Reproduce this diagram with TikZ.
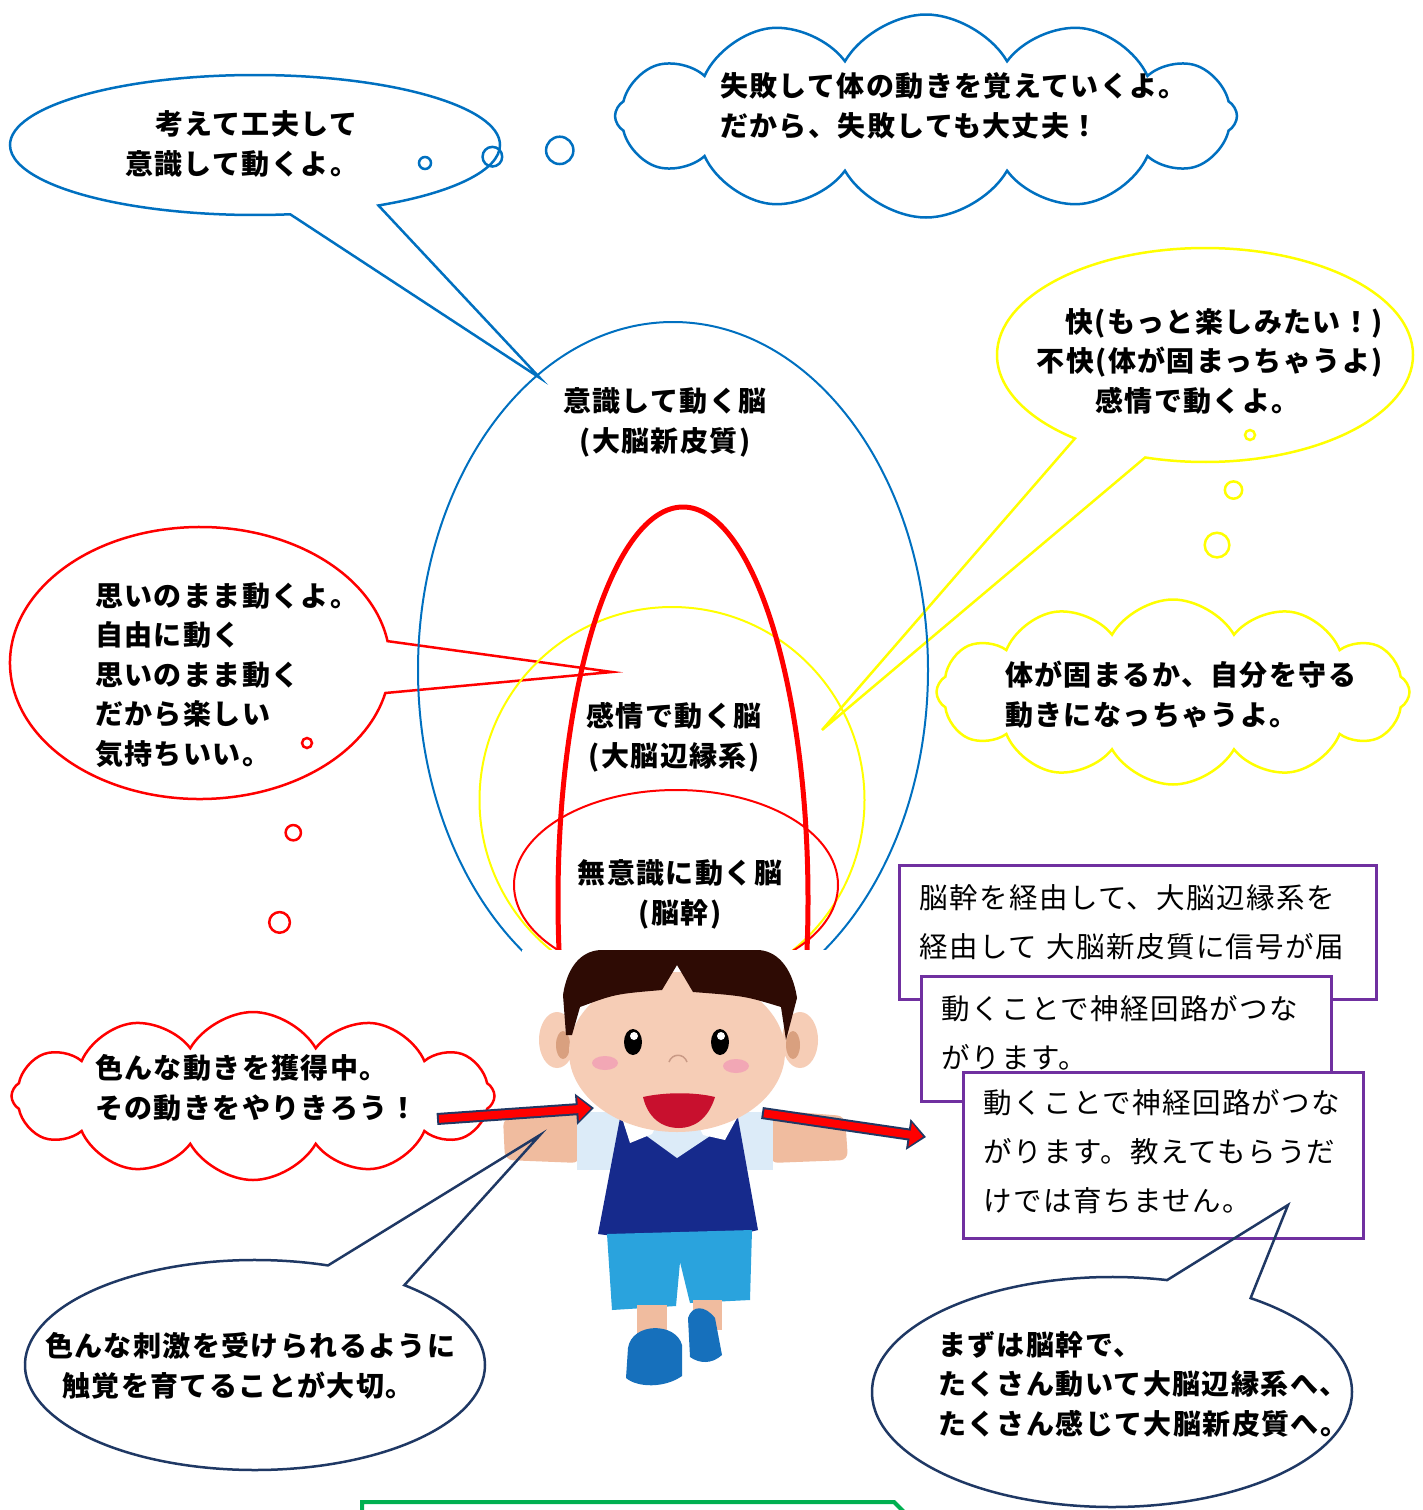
\documentclass[tikz,border=0pt]{standalone}
\usepackage{fontspec}
\newfontfamily\jpfont{Noto Sans CJK JP}[LetterSpace=5]
\usepackage{tikz}
\usetikzlibrary{arrows.meta,shapes.geometric,shapes.symbols,shapes.callouts,positioning}

\definecolor{ablue}{HTML}{0070C0}
\definecolor{ayellow}{HTML}{FFFF00}
\definecolor{ared}{HTML}{FF0000}
\definecolor{apurple}{HTML}{7030A0}
\definecolor{anavy}{HTML}{1F3864}
\definecolor{agreen}{HTML}{00B050}
\definecolor{hair}{HTML}{2E0B04}
\definecolor{skin}{HTML}{F6CDB6}
\definecolor{skinarm}{HTML}{F0BC9F}
\definecolor{earin}{HTML}{D9A07F}
\definecolor{cheek}{HTML}{F2A7B5}
\definecolor{mouth}{HTML}{C8102E}
\definecolor{vest}{HTML}{162A8C}
\definecolor{shirt}{HTML}{DCEBF8}
\definecolor{shorts}{HTML}{2AA3DD}
\definecolor{shoe}{HTML}{1670BC}
\definecolor{nose}{HTML}{C99A86}

\begin{document}
\begin{tikzpicture}[x=1pt,y=-1pt]
\tikzstyle{words}=[font=\jpfont\bfseries\fontsize{28}{39.5}\selectfont, text=black, align=left, inner sep=0pt, anchor=base west]
\tikzstyle{bubble}=[ellipse callout, draw, line width=2.5pt, inner sep=0pt, callout pointer arc=22]
\tikzstyle{think}=[cloud callout, draw, line width=2.5pt, inner sep=0pt, cloud puffs=12, cloud puff arc=120, cloud ignores aspect, callout pointer segments=3]
\tikzstyle{brain}=[ellipse, draw, inner sep=0pt, line width=2pt]
\tikzstyle{note}=[rectangle, draw=apurple, fill=white, line width=3pt, anchor=north west, align=left, inner xsep=20pt, inner ysep=0pt, font=\jpfont\fontsize{28.5}{49}\selectfont]
\tikzstyle{pushout}=[line width=12pt, anavy, -{Triangle[length=18pt,width=30pt]}]
\tikzstyle{pushin}=[line width=8pt, ared, shorten <=2pt, shorten >=3pt, -{Triangle[length=13pt,width=23pt]}]

\useasboundingbox (0,0) rectangle (1423,1510);
\clip (0,0) rectangle (1423,1510);

% where the callouts point
\coordinate (cortextip) at (540,378);
\coordinate (limbictip) at (612,672);
\coordinate (feeltip) at (822,730);
\coordinate (armtip) at (540,1135);
\coordinate (notetip) at (1288,1205);
\coordinate (bluedot) at (425,163);
\coordinate (yellowdot) at (1250,435);
\coordinate (reddot) at (307,743);

% speech and thought bubbles round the brain
\node[bubble, draw=ablue, minimum width=490pt, minimum height=140pt, callout absolute pointer={(cortextip)}] (kufuu) at (255,145) {};
\node[think, draw=ablue, minimum width=622pt, minimum height=203pt, callout absolute pointer={(bluedot)}, callout pointer start size=35pt, callout pointer end size=12pt] (shippai) at (926,116) {};
\node[bubble, draw=ared, minimum width=380pt, minimum height=272pt, callout absolute pointer={(limbictip)}] (omoi) at (200,663) {};
\node[bubble, draw=ayellow, minimum width=416pt, minimum height=214pt, callout absolute pointer={(feeltip)}] (kai) at (1205,355) {};
\node[think, draw=ayellow, minimum width=473pt, minimum height=185pt, callout absolute pointer={(yellowdot)}, callout pointer start size=32pt, callout pointer end size=10pt] (katamaru) at (1173,692) {};
\node[think, draw=ared, minimum width=483pt, minimum height=168pt, callout absolute pointer={(reddot)}, callout pointer start size=26pt, callout pointer end size=10pt] (kakutoku) at (253,1096) {};

% base = last line
\node[words] (kufuutxt) at (125,174) {\hspace*{30pt}考えて工夫して\\意識して動くよ。};
\node[words] (shippaitxt) at (720,136) {失敗して体の動きを覚えていくよ。\\だから、失敗しても大丈夫！};
\node[words] (omoitxt) at (95,764) {思いのまま動くよ。\\自由に動く\\思いのまま動く\\だから楽しい\\気持ちいい。};
\node[words, align=right, anchor=base east] (kaitxt) at (1383,411) {快(もっと楽しみたい！)\\不快(体が固まっちゃうよ)\\感情で動くよ。\hspace*{83pt}};
\node[words] (katamarutxt) at (1005,725) {体が固まるか、自分を守る\\動きになっちゃうよ。};
\node[words] (kakutokutxt) at (95,1118) {色んな動きを獲得中。\\その動きをやりきろう！};

% three brains
\node[brain, draw=ablue, minimum width=510pt, minimum height=696pt] (cortex) at (673,670) {};
\node[brain, draw=ayellow, minimum width=385pt, minimum height=386pt] (limbic) at (672,800) {};
\node[brain, draw=ared, line width=5pt, minimum width=250pt, minimum height=786pt] (lobe) at (683,900) {};
\node[brain, draw=ared, minimum width=324pt, minimum height=190pt] (stem) at (676,885) {};
\node[words, align=center, anchor=base] (cortexlbl) at (665,451) {意識して動く脳\\(大脳新皮質)};
\node[words, align=center, anchor=base] (limbiclbl) at (674,766) {感情で動く脳\\(大脳辺縁系)};
\node[words, align=center, anchor=base] (stemlbl) at (680,923) {無意識に動く脳\\(脳幹)};

% the boy
\fill[white] (522,950) rectangle (840,1395);
\fill[skinarm, rounded corners=8pt] (503,1118) -- (580,1112) -- (580,1163) -- (505,1160) -- cycle;
\fill[skinarm, rounded corners=8pt] (770,1110) -- (845,1116) -- (848,1160) -- (770,1163) -- cycle;
\fill[shirt] (577,1112) rectangle (622,1170);
\fill[shirt] (735,1112) rectangle (773,1170);
\fill[vest] (620,1118) -- (738,1118) -- (758,1230) .. controls (720,1240) and (640,1240) .. (598,1234) -- cycle;
\fill[shirt] (622,1118) -- (677,1158) -- (737,1118) -- cycle;
\fill[white] (622,1118) -- (630,1143) -- (652,1134) -- (660,1118) -- cycle;
\fill[white] (695,1118) -- (703,1135) -- (725,1140) -- (737,1118) -- cycle;
\fill[shorts] (607,1234) -- (752,1230) -- (750,1300) -- (690,1303) -- (680,1262) -- (676,1306) -- (612,1310) -- cycle;
\fill[skinarm] (637,1305) rectangle (667,1345);
\fill[skinarm] (693,1300) rectangle (722,1330);
\fill[shoe] (628,1348) .. controls (632,1322) and (676,1322) .. (682,1345) -- (682,1376) .. controls (665,1388) and (638,1388) .. (626,1378) -- cycle;
\fill[shoe] (688,1318) .. controls (692,1305) and (705,1305) .. (715,1318) -- (722,1355) .. controls (712,1364) and (700,1364) .. (690,1357) -- cycle;
\fill[skin] (557,1040) ellipse [x radius=18, y radius=28];
\fill[earin] (563,1045) ellipse [x radius=7, y radius=14];
\fill[skin] (800,1040) ellipse [x radius=18, y radius=28];
\fill[earin] (793,1045) ellipse [x radius=7, y radius=14];
\fill[skin] (677,1052) ellipse [x radius=108, y radius=80];
\fill[hair] (566,1035) -- (563,995) .. controls (568,962) and (585,950) .. (602,950) -- (757,950) .. controls (775,950) and (792,965) .. (797,998) -- (786,1040) -- (781,1007) .. controls (745,996) .. (693,992) -- (677,965) -- (662,990) .. controls (615,994) .. (580,1007) -- (572,1035) -- cycle;
\fill (633,1042) ellipse [x radius=9, y radius=13];
\fill[white] (634,1036) circle [radius=4];
\fill (720,1042) ellipse [x radius=9, y radius=13];
\fill[white] (721,1036) circle [radius=4];
\fill[cheek] (605,1063) ellipse [x radius=13, y radius=7];
\fill[cheek] (736,1066) ellipse [x radius=13, y radius=7];
\draw[nose, line width=1.5pt] (669,1062) .. controls (672,1053) and (684,1053) .. (687,1062);
\fill[mouth] (643,1097) .. controls (665,1092) and (695,1092) .. (715,1097) .. controls (708,1120) and (693,1128) .. (679,1128) .. controls (662,1128) and (648,1118) .. (643,1097) -- cycle;

% arrows in and out
\coordinate (inA) at (437,1119);
\coordinate (inB) at (594,1108);
\coordinate (outA) at (762,1113);
\coordinate (outB) at (926,1137);
\draw[pushout] (inA) -- (inB);
\draw[pushin] (inA) -- (inB);
\draw[pushout] (outA) -- (outB);
\draw[pushin] (outA) -- (outB);

% notes on the right
\node[note, text width=437pt, minimum height=134pt] (keiyu) at (898,864) {脳幹を経由して、大脳辺縁系を\\経由して 大脳新皮質に信号が届\rule[-23pt]{0pt}{0pt}};
\node[note, text width=370pt, minimum height=125pt] (kairo) at (920,975) {動くことで神経回路がつな\\がります。\rule[-15pt]{0pt}{0pt}};
\node[note, text width=360pt, minimum height=166pt] (sodatsu) at (962,1071) {動くことで神経回路がつな\\がります。教えてもらうだ\\けでは育ちません。\rule[-10pt]{0pt}{0pt}};

% bottom bubbles
\node[bubble, draw=anavy, minimum width=460pt, minimum height=210pt, callout absolute pointer={(armtip)}] (shigeki) at (255,1365) {};
\node[bubble, draw=anavy, minimum width=480pt, minimum height=230pt, callout absolute pointer={(notetip)}] (mazu) at (1112,1392) {};
\node[words] (shigekitxt) at (45,1396) {色んな刺激を受けられるように\\\hspace*{17pt}触覚を育てることが大切。};
\node[words] (mazutxt) at (938,1434) {まずは脳幹で、\\たくさん動いて大脳辺縁系へ、\\たくさん感じて大脳新皮質へ。};

\draw[agreen, line width=4pt] (362,1516) -- (362,1502) -- (894,1502) -- (910,1518);
\end{tikzpicture}
\end{document}
